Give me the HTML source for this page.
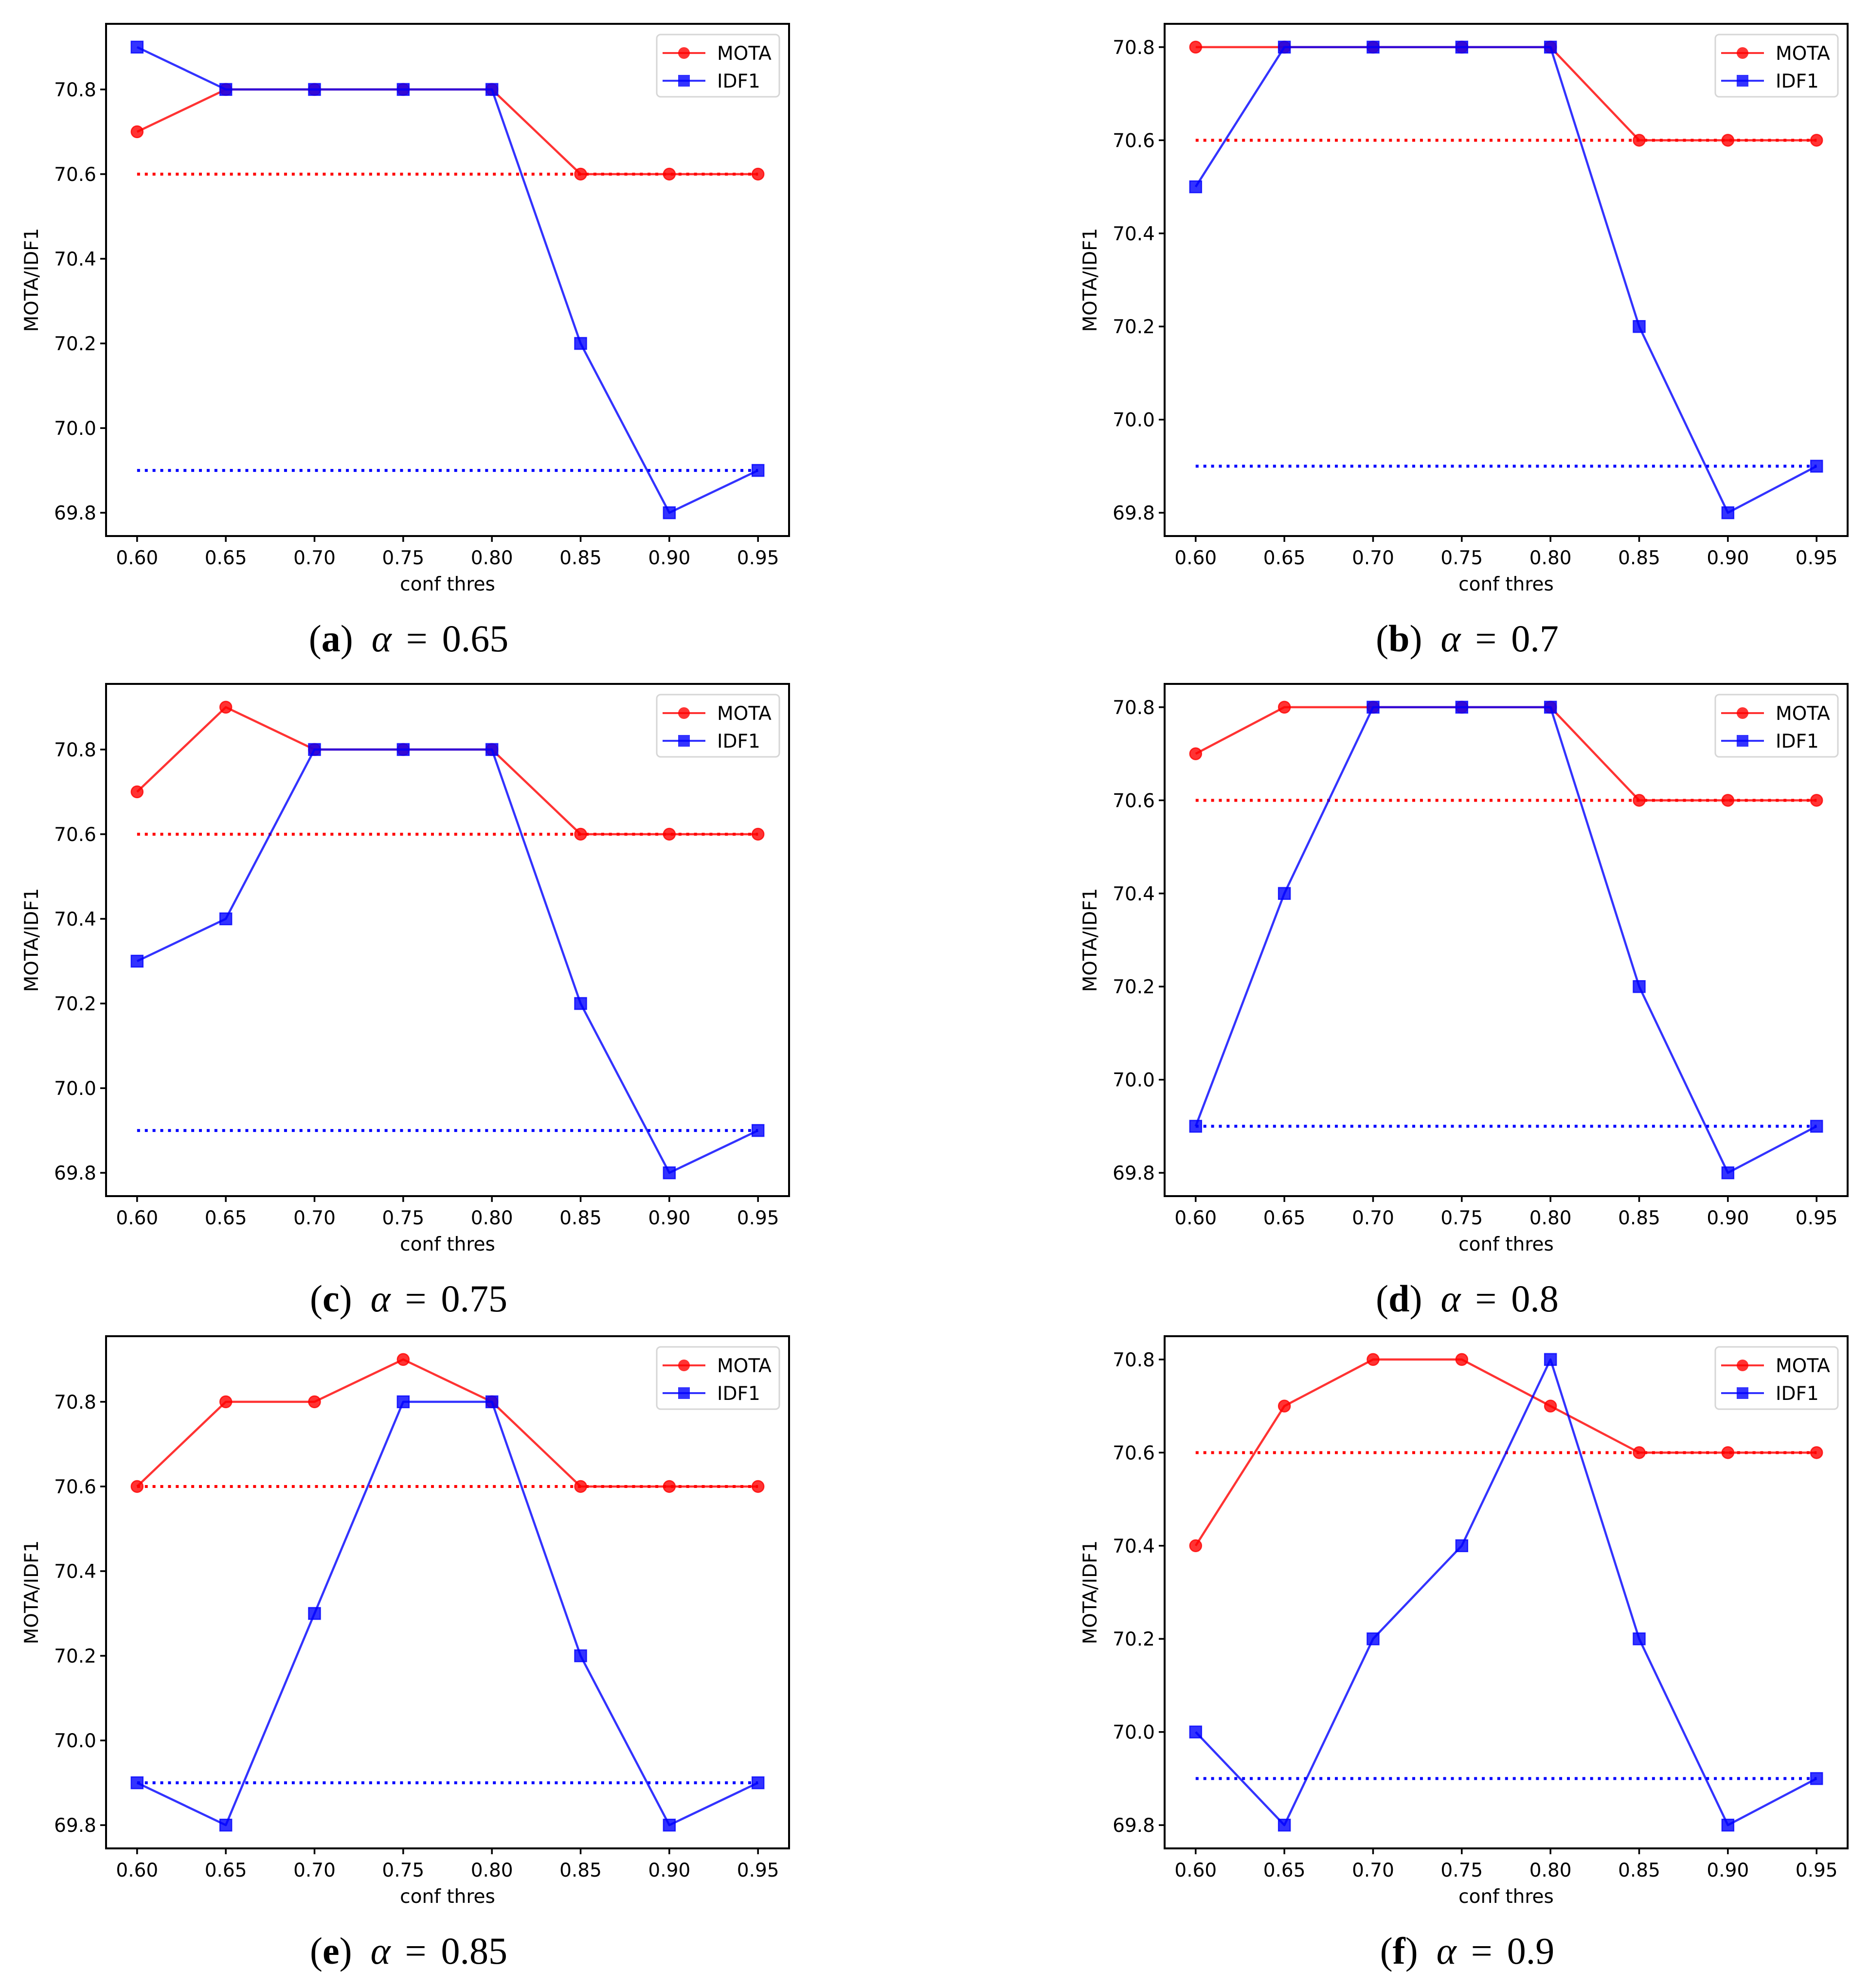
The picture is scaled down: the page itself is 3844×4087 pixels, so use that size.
<!DOCTYPE html>
<html><head><meta charset="utf-8"><style>
html,body{margin:0;padding:0;background:#fff;}
svg{display:block;}
</style></head><body>
<svg id="fig" xmlns="http://www.w3.org/2000/svg" width="3844" height="4087" viewBox="0 0 3844 4087"></svg>
<script>
const categories = [0.60, 0.65, 0.70, 0.75, 0.80, 0.85, 0.90, 0.95];
const xTickLabels = ["0.60","0.65","0.70","0.75","0.80","0.85","0.90","0.95"];
const yTicks = [69.8, 70.0, 70.2, 70.4, 70.6, 70.8];
const yTickLabels = ["69.8","70.0","70.2","70.4","70.6","70.8"];
const panelLetters = ["a","b","c","d","e","f"];
const alphaValues = ["0.65","0.7","0.75","0.8","0.85","0.9"];
const motaA = [70.7,70.8,70.8,70.8,70.8,70.6,70.6,70.6];
const idf1A = [70.9,70.8,70.8,70.8,70.8,70.2,69.8,69.9];
const motaB = [70.8,70.8,70.8,70.8,70.8,70.6,70.6,70.6];
const idf1B = [70.5,70.8,70.8,70.8,70.8,70.2,69.8,69.9];
const motaC = [70.7,70.9,70.8,70.8,70.8,70.6,70.6,70.6];
const idf1C = [70.3,70.4,70.8,70.8,70.8,70.2,69.8,69.9];
const motaD = [70.7,70.8,70.8,70.8,70.8,70.6,70.6,70.6];
const idf1D = [69.9,70.4,70.8,70.8,70.8,70.2,69.8,69.9];
const motaE = [70.6,70.8,70.8,70.9,70.8,70.6,70.6,70.6];
const idf1E = [69.9,69.8,70.3,70.8,70.8,70.2,69.8,69.9];
const motaF = [70.4,70.7,70.8,70.8,70.7,70.6,70.6,70.6];
const idf1F = [70.0,69.8,70.2,70.4,70.8,70.2,69.8,69.9];
const motaBaseline = 70.6;
const idf1Baseline = 69.9;

const motaSeries = [motaA,motaB,motaC,motaD,motaE,motaF];
const idf1Series = [idf1A,idf1B,idf1C,idf1D,idf1E,idf1F];

const NS = "http://www.w3.org/2000/svg";
const svg = document.getElementById("fig");
function mk(tag, attrs, parent){
  const e = document.createElementNS(NS, tag);
  for (const k in attrs) e.setAttribute(k, attrs[k]);
  (parent||svg).appendChild(e);
  return e;
}
const colLeft = [218, 2394];
const rowTop = [49, 1406, 2747];
const AW = 1404, AH = 1053;
const FONT = '"DejaVu Sans","Liberation Sans",sans-serif';

for (let p = 0; p < 6; p++) {
  const L = colLeft[p % 2], T = rowTop[Math.floor(p / 2)];
  const mota = motaSeries[p], idf1 = idf1Series[p];
  const all = mota.concat(idf1, [motaBaseline, idf1Baseline]);
  const dmin = Math.min(...all), dmax = Math.max(...all);
  const m = (dmax - dmin) * 0.05;
  const y0 = dmin - m, y1 = dmax + m;
  const xmin = categories[0], xmax = categories[categories.length-1];
  const xm = (xmax - xmin) * 0.05;
  const X = v => L + (v - (xmin - xm)) / ((xmax + xm) - (xmin - xm)) * AW;
  const Y = v => T + AH - (v - y0) / (y1 - y0) * AH;

  const g = mk("g", {});
  
  

  const bl1 = mk("line", {x1:X(xmin), x2:X(xmax), y1:Y(motaBaseline), y2:Y(motaBaseline), stroke:"#ff0000", "stroke-width":6, "stroke-dasharray":"6 9.9"}, g);
  
  
  const bl2 = mk("line", {x1:X(xmin), x2:X(xmax), y1:Y(idf1Baseline), y2:Y(idf1Baseline), stroke:"#0000ff", "stroke-width":6, "stroke-dasharray":"6 9.9"}, g);
  
  

  const pm = mk("polyline", {points: mota.map((v,i)=>X(categories[i])+","+Y(v)).join(" "), fill:"none", stroke:"rgba(255,0,0,0.8)", "stroke-width":4.5, "stroke-linejoin":"round"}, g);
  
  
  mota.forEach((v,i)=>{
    const c = mk("circle", {cx:X(categories[i]), cy:Y(v), r:12, fill:"rgba(255,0,0,0.8)", stroke:"rgba(255,0,0,0.8)", "stroke-width":2.5}, g);
    
    
  });
  const pi = mk("polyline", {points: idf1.map((v,i)=>X(categories[i])+","+Y(v)).join(" "), fill:"none", stroke:"rgba(0,0,255,0.8)", "stroke-width":4.5, "stroke-linejoin":"round"}, g);
  
  
  idf1.forEach((v,i)=>{
    const s = mk("rect", {x:X(categories[i])-12, y:Y(v)-12, width:24, height:24, fill:"rgba(0,0,255,0.8)", stroke:"rgba(0,0,255,0.8)", "stroke-width":2.5}, g);
    
    
  });

  const fr = mk("rect", {x:L, y:T, width:AW, height:AH, fill:"none", stroke:"#000", "stroke-width":4}, g);
  
  

  categories.forEach((c,i)=>{
    mk("line", {x1:X(c), x2:X(c), y1:T+AH, y2:T+AH+12, stroke:"#000", "stroke-width":3.5}, g);
    const t = mk("text", {x:X(c), y:T+AH+58, "font-family":FONT, "font-size":39, "text-anchor":"middle", fill:"#000"}, g);
    t.textContent = xTickLabels[i];
    
    
  });
  yTicks.forEach((v,i)=>{
    mk("line", {x1:L-12, x2:L, y1:Y(v), y2:Y(v), stroke:"#000", "stroke-width":3.5}, g);
    const t = mk("text", {x:L-20, y:Y(v)+14, "font-family":FONT, "font-size":39, "text-anchor":"end", fill:"#000"}, g);
    t.textContent = yTickLabels[i];
    
    
  });
  const xl = mk("text", {x:L+AW/2, y:T+AH+112, "font-family":FONT, "font-size":39, "text-anchor":"middle", fill:"#000"}, g);
  xl.textContent = "conf thres";
  
  
  const yl = mk("text", {x:0, y:0, "font-family":FONT, "font-size":39, "text-anchor":"middle", fill:"#000", transform:`translate(${L-140},${T+AH/2}) rotate(-90)`}, g);
  yl.textContent = "MOTA/IDF1";
  
  

  const lx = L + AW - 20 - 252, ly = T + 22;
  const lg = mk("g", {}, g);
  
  
  mk("rect", {x:lx, y:ly, width:252, height:128, rx:8, fill:"rgba(255,255,255,0.8)", stroke:"#d6d6d6", "stroke-width":3}, lg);
  const r1 = ly + 38, r2 = ly + 95;
  mk("line", {x1:lx+12, x2:lx+100, y1:r1, y2:r1, stroke:"rgba(255,0,0,0.8)", "stroke-width":4}, lg);
  mk("circle", {cx:lx+56, cy:r1, r:12, fill:"rgba(255,0,0,0.8)"}, lg);
  const t1 = mk("text", {x:lx+124, y:r1+14, "font-family":FONT, "font-size":39, fill:"#000"}, lg);
  t1.textContent = "MOTA";
  
  
  mk("line", {x1:lx+12, x2:lx+100, y1:r2, y2:r2, stroke:"rgba(0,0,255,0.8)", "stroke-width":4}, lg);
  mk("rect", {x:lx+44, y:r2-12, width:24, height:24, fill:"rgba(0,0,255,0.8)"}, lg);
  const t2 = mk("text", {x:lx+124, y:r2+14, "font-family":FONT, "font-size":39, fill:"#000"}, lg);
  t2.textContent = "IDF1";
  
  

  const cap = mk("text", {x:L + AW/2 - 80, y:T + AH + 237, "font-family":'"Liberation Serif","DejaVu Serif",serif', "font-size":78, "text-anchor":"middle", fill:"#000"}, g);
  
  
  const s1 = mk("tspan", {}, cap); s1.textContent = "(";
  const s2 = mk("tspan", {"font-weight":"bold"}, cap); s2.textContent = panelLetters[p];
  const s3 = mk("tspan", {}, cap); s3.textContent = ")";
  const s4 = mk("tspan", {"font-style":"italic", dx:38}, cap); s4.textContent = "α";
  const s5 = mk("tspan", {dx:30}, cap); s5.textContent = "=";
  const s6 = mk("tspan", {dx:30}, cap); s6.textContent = alphaValues[p];
}
</script>
</body></html>
